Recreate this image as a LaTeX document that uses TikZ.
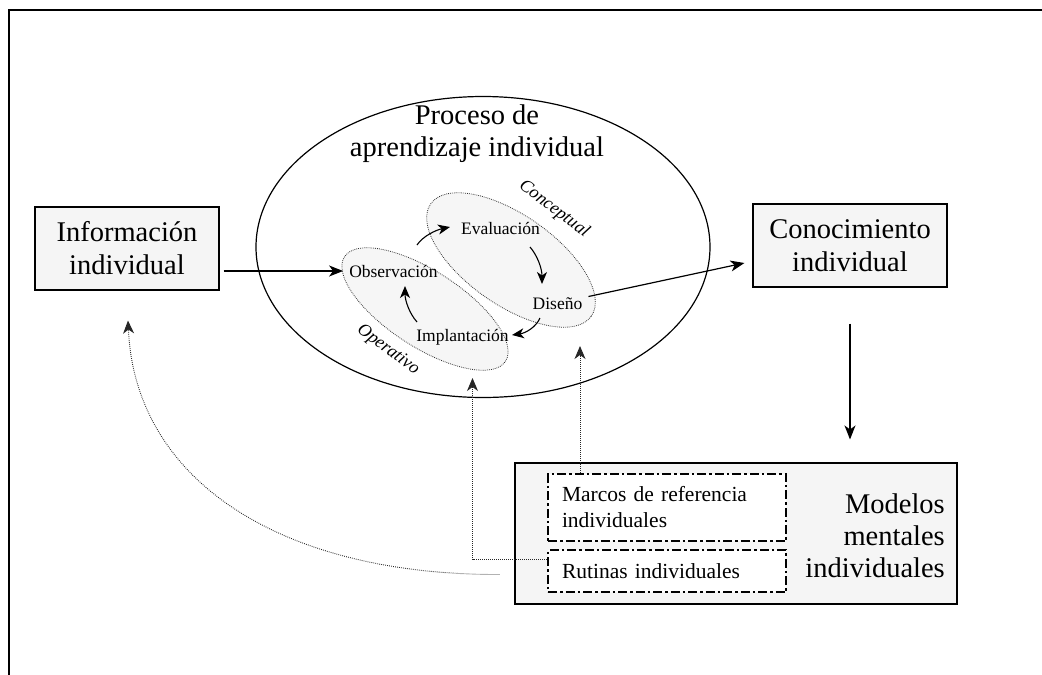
\documentclass[tikz,border=0pt]{standalone}
\usepackage{fontspec}
\setmainfont{Liberation Serif}
\usetikzlibrary{arrows.meta,shapes.geometric,calc}
\definecolor{boxfill}{HTML}{F5F5F5}
\definecolor{zonefill}{HTML}{F6F6F6}
\begin{document}
\begin{tikzpicture}[x=1pt,y=-1pt,
  bigbox/.style={draw=black,line width=1.1pt,fill=boxfill,inner sep=0pt,align=center,
    font=\fontsize{28.5}{33}\selectfont},
  refbox/.style={draw=black,line width=2.2pt,dash pattern=on 9pt off 3pt on 2.5pt off 3pt,
    fill=white,inner xsep=14pt,inner ysep=0pt,align=left,font=\fontsize{21.5}{26}\selectfont},
  stage/.style={inner xsep=6pt,inner ysep=1pt,anchor=base,font=\fontsize{17.5}{20}\selectfont},
  zone/.style={ellipse,draw=black!80,line width=0.8pt,dash pattern=on 0.8pt off 1.1pt,
    fill=zonefill,inner sep=0pt},
  lvl/.style={font=\fontsize{18}{20}\selectfont\itshape,inner sep=0pt},
  flow/.style={-{Stealth[length=14pt,width=11pt,inset=4pt]},line width=1.2pt},
  cyc/.style={-{Stealth[length=12pt,width=10pt,inset=3.5pt]},line width=1.1pt},
  feed/.style={-{Stealth[length=13pt,width=11pt,inset=4pt]},line width=0.9pt,
    dash pattern=on 0.8pt off 1.2pt,draw=black!85}
]
\useasboundingbox (0,0) rectangle (1042,675);

% page frame (top and left edges)
\draw[line width=2pt] (9,675) -- (9,9.5) -- (1042,9.5);

% learning process ellipse and its title
\node[ellipse,draw,line width=1.2pt,minimum width=454pt,minimum height=301pt,inner sep=0pt]
  (proc) at (483,247) {};
\node[align=center,inner sep=0pt,font=\fontsize{28.5}{32}\selectfont]
  (proctitle) at (477,134) {Proceso de\\aprendizaje individual};

% operative and conceptual zones
\node[zone,minimum width=192pt,minimum height=76pt,rotate=-33] (opzone) at (425,309) {};
\node[zone,minimum width=196pt,minimum height=90pt,rotate=-35] (cozone) at (511,260) {};

\node[lvl,rotate=-37] (concept) at (554,209) {Conceptual};
\node[lvl,rotate=-37] (oper) at (388,350) {Operativo};

% stages of the cycle
\node[stage] (obs) at (393.5,277) {Observación};
\node[stage] (eval) at (500.5,234) {Evaluación};
\node[stage] (dis) at (557.5,309.5) {Diseño};
\node[stage] (impl) at (462.5,341) {Implantación};

% cycle arrows
\coordinate (c1a) at (417,245); \coordinate (c1b) at (450,227);
\coordinate (c2a) at (530,247); \coordinate (c2b) at (542,284);
\coordinate (c3a) at (540,318); \coordinate (c3b) at (512,335);
\coordinate (c4a) at (417,322); \coordinate (c4b) at (405,286);
\draw[cyc] (c1a) .. controls (423,236) and (436,230) .. (c1b);
\draw[cyc] (c2a) .. controls (537,255) and (542,268) .. (c2b);
\draw[cyc] (c3a) .. controls (536,327) and (526,333) .. (c3b);
\draw[cyc] (c4a) .. controls (409,313) and (405,300) .. (c4b);

% outer boxes
\node[bigbox,minimum width=184pt,minimum height=83pt] (info) at (127,248.5) {Información\\individual};
\node[bigbox,minimum width=194pt,minimum height=83pt] (cono) at (850,245.5) {Conocimiento\\individual};
\node[draw=black,line width=1.1pt,fill=boxfill,minimum width=442pt,minimum height=141pt,inner sep=0pt]
  (models) at (736,533.5) {};
\node[align=right,anchor=east,inner sep=0pt,font=\fontsize{28.5}{32}\selectfont]
  (modtxt) at (945,536) {Modelos\\mentales\\individuales};
\node[refbox,text width=210pt,minimum height=67pt] (marcos) at (667,507.5) {Marcos de referencia\\individuales};
\node[refbox,text width=210pt,minimum height=42pt] (rutinas) at (667,571) {Rutinas individuales};

% main flow
\coordinate (kin) at ($(cono.west)+(-8,17.5)$);
\draw[flow,shorten <=4pt] (info.east |- obs.west) -- (obs.west);
\draw[flow] (dis.north east) -- (kin);
\draw[flow,shorten <=36pt,shorten >=23pt] (cono.south) -- (cono.south |- models.north);

% feedback from the mental models
\coordinate (dzin) at (580,346);
\coordinate (opin) at (472.5,378);
\coordinate (infin) at ($(info.south)+(1,30)$);
\coordinate (lfeed) at ($(models.west)+(-15,41)$);
\draw[feed] (dzin |- marcos.north) -- (dzin);
\draw[feed] ($(rutinas.west)+(0,-12)$) -| (opin);
\draw[feed] (lfeed) .. controls (280,575) and (135,480) .. (infin);
\end{tikzpicture}
\end{document}
